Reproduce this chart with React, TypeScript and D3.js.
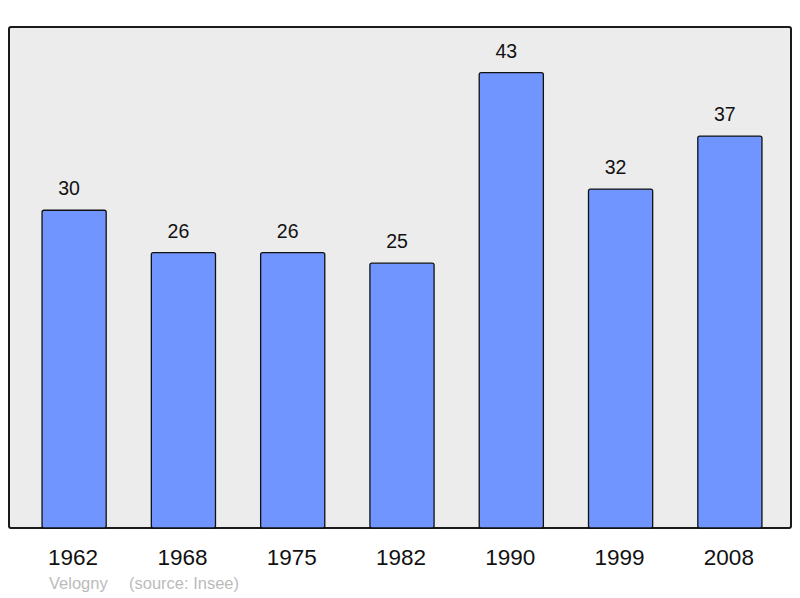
import React from 'react';
import * as d3 from 'd3';

const years = ['1962', '1968', '1975', '1982', '1990', '1999', '2008'];
const population = [30, 26, 26, 25, 43, 32, 37];
const commune = 'Velogny';
const source = '(source: Insee)';

const W = 800;
const H = 598;
const panel = { left: 9, top: 27, right: 791, bottom: 528 };

const App = () => {
  const x = d3.scaleBand<string>()
    .domain(years)
    .range([18, 786])
    .paddingInner(0.413)
    .paddingOuter(0.22);

  const y = d3.scaleLinear()
    .domain([0, 47.3])
    .range([panel.bottom, panel.top]);

  const font = '"Liberation Sans", Arial, sans-serif';

  return (
    <svg width={W} height={H} style={{ position: 'absolute', left: 0, top: 0 }}>
      <rect
        x={panel.left}
        y={panel.top}
        width={panel.right - panel.left}
        height={panel.bottom - panel.top}
        rx={2}
        fill="#ececec"
        stroke="#1a1a1a"
        strokeWidth={2}
      />
      {years.map((yr, i) => {
        const v = population[i];
        const bx = x(yr) as number;
        const cx = bx + x.bandwidth() / 2;
        return (
          <g key={yr}>
            <rect
              x={bx}
              y={y(v)}
              width={x.bandwidth()}
              height={panel.bottom - y(v)}
              rx={2}
              fill="#7095ff"
              stroke="#111"
              strokeWidth={1.3}
            />
            <text x={cx - 5} y={y(v) - 15} textAnchor="middle" fontFamily={font} fontSize={19.5} fill="#111">
              {v}
            </text>
            <text x={cx - 1} y={565} textAnchor="middle" fontFamily={font} fontSize={22.5} fill="#111">
              {yr}
            </text>
          </g>
        );
      })}
      <text x={49} y={589} fontFamily={font} fontSize={16.5} fill="#bbbbbb">{commune}</text>
      <text x={129} y={589} fontFamily={font} fontSize={16.5} fill="#bbbbbb">{source}</text>
    </svg>
  );
};

export default App;
